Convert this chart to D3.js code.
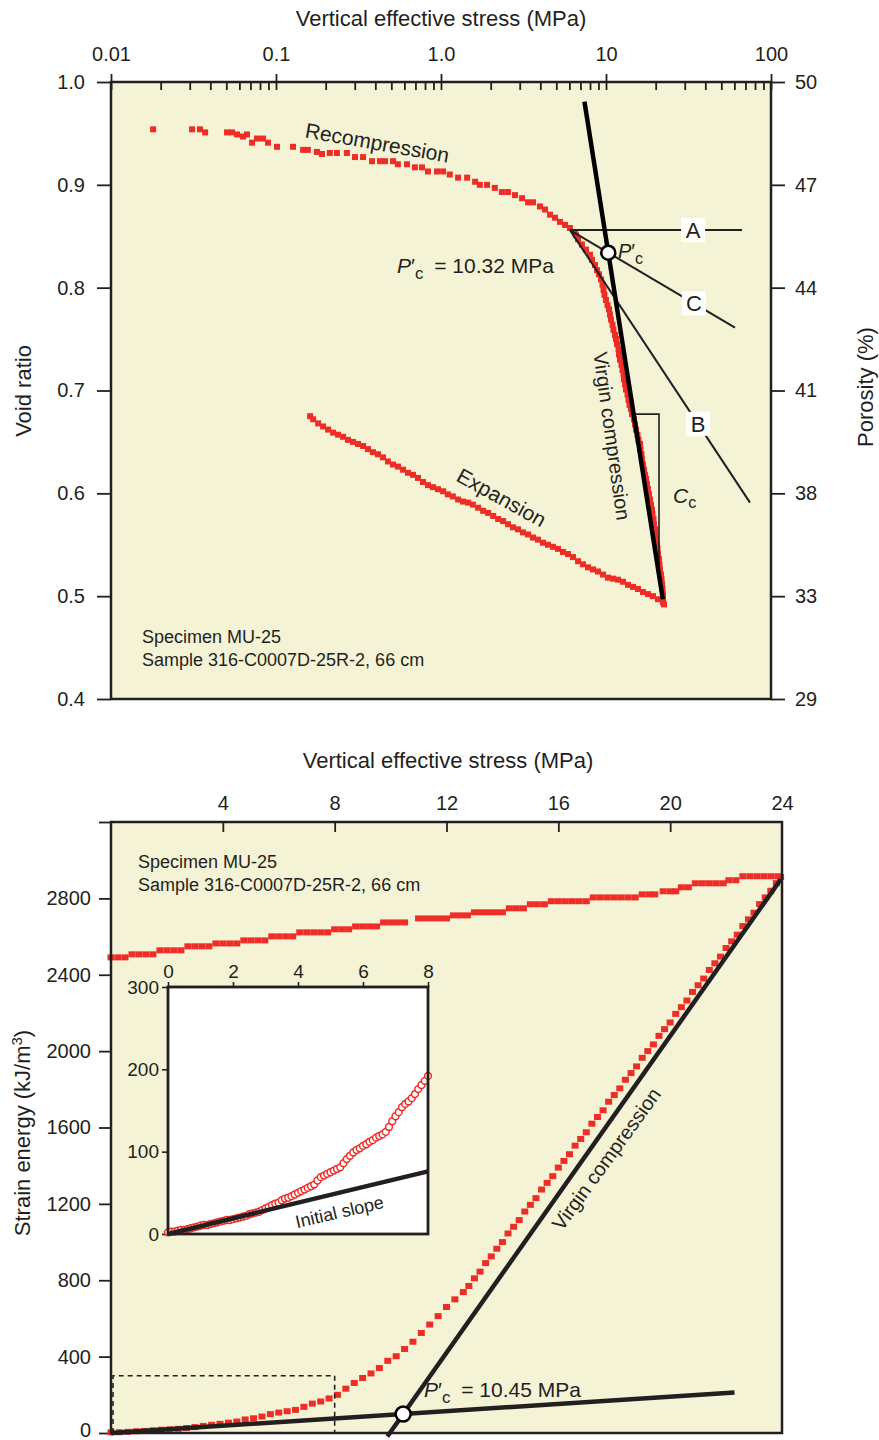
<!DOCTYPE html>
<html>
<head>
<meta charset="utf-8">
<script src="https://cdn.jsdelivr.net/npm/d3@7"></script>
<style>
  body { margin: 0; background: #ffffff; }
  svg text { font-family: "Liberation Sans", Arial, Helvetica, sans-serif; fill: #231f20; }
</style>
</head>
<body>
<svg id="fig" width="879" height="1440"></svg>
<script>
// ---------- Consolidation curve: void ratio vs. vertical effective stress ----------
const recompStress = [0.0180,0.0310,0.0346,0.0372,0.0505,0.0541,0.0581,0.0631,0.0667,0.0716,0.0767,0.0834,0.0895,0.1014,0.1268,0.146,0.156,0.177,0.190,0.212,0.234,0.269,0.301,0.337,0.382,0.427,0.458,0.512,0.548,0.622,0.695,0.767,0.834,0.946,1.03,1.13,1.27,1.44,1.61,1.72,1.90,2.12,2.34,2.55,2.81,3.10,3.37,3.61,3.98,4.27,4.58,4.91,5.26,5.65,6.05,6.49,
  6.58,6.77,7.15,7.56,8.00,8.23,8.58,8.82,9.07,9.33,9.52,9.66,9.79,10.0,10.21,10.43,10.57,10.72,10.95,11.10,11.34,11.50,11.66,11.91,11.99,12.16,12.41,12.59,12.77,12.85,13.04,13.22,13.50,13.69,13.88,14.18,14.38,14.78,14.99,15.20,15.52,15.74,16.07,16.18,16.41,16.53,16.76,17.00,17.24,17.48,17.72,17.97,18.22,18.48,18.74,19.00,19.13,19.41,19.54,19.82,19.95,20.09,20.37,20.51,20.66,20.95,21.10,21.25,21.54,21.70,21.85,22.00,22.16,22.16,22.47];
const recompVoid = [0.954,0.954,0.954,0.951,0.951,0.951,0.949,0.947,0.949,0.941,0.945,0.945,0.941,0.937,0.937,0.934,0.934,0.932,0.930,0.931,0.931,0.931,0.927,0.927,0.923,0.923,0.923,0.923,0.920,0.920,0.917,0.917,0.913,0.913,0.913,0.910,0.907,0.907,0.903,0.900,0.900,0.897,0.893,0.893,0.890,0.887,0.883,0.883,0.879,0.876,0.871,0.868,0.864,0.861,0.858,0.853,
  0.851,0.847,0.842,0.837,0.832,0.827,0.822,0.817,0.813,0.808,0.803,0.798,0.793,0.788,0.783,0.779,0.774,0.769,0.764,0.759,0.754,0.750,0.745,0.740,0.735,0.730,0.725,0.720,0.716,0.711,0.706,0.701,0.696,0.691,0.686,0.682,0.677,0.672,0.667,0.662,0.657,0.652,0.648,0.643,0.638,0.633,0.628,0.623,0.618,0.614,0.609,0.604,0.599,0.594,0.589,0.584,0.580,0.575,0.570,0.565,0.560,0.555,0.550,0.546,0.541,0.536,0.531,0.526,0.521,0.517,0.512,0.507,0.502,0.497,0.492];

const expStress = [22.16,20.66,19.27,17.97,16.76,15.63,14.58,13.60,12.68,11.82,11.03,10.28,9.59,8.94,8.34,7.78,7.25,6.77,6.31,5.88,5.49,5.12,4.77,4.45,4.15,3.87,3.61,3.37,3.14,2.93,2.73,2.55,2.38,2.22,2.07,1.93,1.80,1.68,1.56,1.46,1.36,1.27,1.18,1.10,1.03,0.959,0.894,0.834,0.778,0.725,0.677,0.631,0.589,0.549,0.512,0.477,0.445,0.415,0.387,0.361,0.337,0.314,0.293,0.273,0.255,0.238,0.222,0.207,0.193,0.180,0.168,0.161];
const expVoid = [0.494,0.497,0.500,0.502,0.504,0.507,0.509,0.511,0.514,0.516,0.517,0.518,0.521,0.524,0.526,0.528,0.531,0.534,0.538,0.541,0.543,0.546,0.548,0.550,0.552,0.555,0.557,0.560,0.562,0.565,0.567,0.570,0.573,0.575,0.578,0.581,0.583,0.586,0.589,0.591,0.592,0.594,0.597,0.599,0.602,0.604,0.606,0.608,0.611,0.615,0.618,0.620,0.623,0.626,0.628,0.631,0.635,0.638,0.640,0.643,0.646,0.648,0.650,0.652,0.655,0.657,0.659,0.662,0.665,0.668,0.672,0.675];

const logMajorTicks = [0.01, 0.1, 1, 10, 100];
const logMajorLabels = ["0.01", "0.1", "1.0", "10", "100"];
const logMinorMultipliers = [2, 3, 4, 5, 6, 7, 8, 9];
const voidTicks = [1.0, 0.9, 0.8, 0.7, 0.6, 0.5, 0.4];
const porosityLabels = ["50", "47", "44", "41", "38", "33", "29"];

// Casagrande construction
const pcTopStress = 10.32;          // MPa, preconsolidation stress
const pcTopVoid = 0.834;
const virginLowEnd = [22.1, 0.497];  // lower end of the virgin compression line
const virginTopVoid = 0.981;         // void ratio where the line is cut off at the top
const maxCurvature = [6.05, 0.856];  // point of maximum curvature
const lineAEndStress = 66.7;         // horizontal line
const lineCEndStress = 60.5;         // bisector
const lineBEnd = [74.6, 0.591];      // tangent
const labelStressABC = { A: 33.7, C: 34.1, B: 36.1 };
const ccVoid = 0.677, ccStress = 20.95;   // compression-index triangle

// ---------- Strain energy vs. vertical effective stress ----------
const loadStress = [0.0,0.3,0.6,0.9,1.2,1.5,1.8,2.1,2.4,2.7,3.0,3.3,3.6,3.9,4.2,4.5,4.8,5.1,5.4,5.7,6.0,6.3,6.6,6.9,7.2,7.5,7.8,8.1,8.4,8.7,9.0,9.3,9.6,9.9,10.2,10.5,10.8,11.1,11.4,11.7,12.0,12.3,12.6,
  12.8,13.0,13.2,13.4,13.6,13.8,14.0,14.2,14.4,14.6,14.8,15.0,15.2,15.4,15.6,15.8,16.0,16.2,16.4,16.6,16.8,17.0,17.2,17.4,17.6,17.8,18.0,18.2,18.4,18.6,18.8,19.0,19.2,19.4,19.6,19.8,20.0,20.2,20.4,20.6,20.8,21.0,21.2,21.4,21.6,21.8,22.0,22.2,22.4,22.6,22.8,23.0,23.2,23.4,23.6,23.8,23.95];
const loadEnergy = [3,4,6,9,11,14,17,19,22,26,31,37,43,48,54,60,71,77,86,99,107,114,121,137,154,165,181,200,232,262,288,312,340,378,402,440,478,524,568,612,660,700,738,
  770,810,845,890,925,965,1000,1045,1080,1115,1160,1195,1230,1275,1310,1345,1390,1425,1460,1505,1540,1575,1620,1655,1690,1735,1770,1805,1850,1885,1920,1965,2000,2035,2080,2115,2150,2195,2230,2265,2310,2345,2380,2425,2460,2495,2540,2575,2610,2655,2690,2725,2770,2805,2840,2880,2912];

const unloadStress = [0,0.25,0.5,0.75,1.0,1.25,1.5,1.75,2.0,2.25,2.5,2.75,3.0,3.25,3.5,3.75,4.0,4.25,4.5,4.75,5.0,5.25,5.5,5.75,6.0,6.25,6.5,6.75,7.0,7.25,7.5,7.75,8.0,8.25,8.5,8.75,9.0,9.25,9.5,9.75,10.0,10.25,10.5,11.0,11.25,11.5,11.75,12.0,12.25,12.5,12.75,13.0,13.25,13.5,13.75,14.0,14.25,14.5,14.75,15.0,15.25,15.5,15.75,16.0,16.25,16.5,16.75,17.0,17.25,17.5,17.75,18.0,18.25,18.5,18.75,19.0,19.25,19.45,19.75,20.0,20.2,20.4,20.65,20.9,21.15,21.4,21.65,21.9,22.1,22.35,22.6,22.85,23.1,23.35,23.6,23.85];
const unloadEnergy = [2491,2491,2491,2507,2507,2507,2507,2528,2528,2528,2528,2549,2549,2549,2549,2564,2564,2564,2564,2580,2580,2580,2580,2601,2601,2601,2601,2622,2622,2622,2622,2622,2638,2638,2638,2653,2653,2653,2653,2674,2674,2674,2674,2695,2695,2695,2695,2695,2711,2711,2711,2727,2727,2727,2727,2727,2748,2748,2748,2769,2769,2769,2785,2785,2785,2785,2785,2785,2805,2805,2805,2805,2805,2805,2805,2821,2821,2821,2837,2837,2837,2858,2858,2879,2879,2879,2879,2879,2895,2895,2916,2916,2916,2916,2916,2916];

const insetStress = [0.0,0.1,0.2,0.3,0.4,0.5,0.6,0.7,0.8,0.9,1.0,1.1,1.2,1.3,1.4,1.5,1.6,1.7,1.8,1.9,2.0,2.1,2.2,2.3,2.4,2.5,2.6,2.7,2.8,2.9,3.0,3.1,3.2,3.3,3.4,3.5,3.6,3.7,3.8,3.9,4.0,4.1,4.2,4.3,4.4,4.5,4.6,4.7,4.8,4.9,5.0,5.1,5.2,5.3,5.4,5.5,5.6,5.7,5.8,5.9,6.0,6.1,6.2,6.3,6.4,6.5,6.6,6.7,6.8,6.9,7.0,7.1,7.2,7.3,7.4,7.5,7.6,7.7,7.8,7.9,8.0];
const insetEnergy = [2,3,3,4,5,5,6,7,8,9,10,11,11,12,13,14,15,16,17,17,18,19,20,21,22,24,25,26,27,29,31,33,35,37,38,41,43,44,46,48,50,52,54,56,58,60,65,69,71,73,75,77,79,81,86,91,95,99,102,104,107,109,112,114,117,119,121,124,130,137,143,148,154,158,161,165,170,176,181,186,192];

const energyTicks = [0, 400, 800, 1200, 1600, 2000, 2400, 2800, 3200];
const stressTicks = [4, 8, 12, 16, 20, 24];
const insetStressTicks = [0, 2, 4, 6, 8];
const insetEnergyTicks = [0, 100, 200, 300];
const insetWindow = { stress: 8, energy: 300 };

const initialSlope = 9.5;          // kJ/m3 per MPa
const initialSlopeEnd = 22.3;      // MPa
const pcBottomStress = 10.45;      // MPa
const virginTopPoint = [23.96, 2900];

// ---------- drawing ----------
const ink = "#231f20", red = "#ed2d26", cream = "#f5f3d6";
const svg = d3.select("#fig");

function styleAxis(g, width) {
  g.select(".domain").remove();
  g.selectAll(".tick line").attr("stroke", ink).attr("stroke-width", width || 1.8);
  g.selectAll(".tick text").attr("fill", ink);
}

// ===== Upper panel =====
const T = { left: 111, right: 771, top: 82, bottom: 699 };
const xT = d3.scaleLog().domain([0.01, 100]).range([T.left, T.right]);
const yT = d3.scaleLinear().domain([0.4, 1.0]).range([T.bottom, T.top]);
const gTop = svg.append("g");

gTop.append("rect").attr("x", T.left).attr("y", T.top)
  .attr("width", T.right - T.left).attr("height", T.bottom - T.top).attr("fill", cream);

const minorTicks = [];
logMajorTicks.slice(0, -1).forEach(d => logMinorMultipliers.forEach(m => minorTicks.push(d * m)));

// major ticks with labels (outward) and inward parts
gTop.append("g").attr("transform", `translate(0,${T.top})`)
  .call(d3.axisTop(xT).tickValues(logMajorTicks).tickSize(8).tickPadding(13)
    .tickFormat((d, i) => logMajorLabels[i]))
  .call(g => styleAxis(g))
  .selectAll("text").attr("font-size", 20);
gTop.append("g").attr("transform", `translate(0,${T.top})`)
  .call(d3.axisBottom(xT).tickValues(logMajorTicks.concat(minorTicks)).tickSize(8).tickFormat(""))
  .call(g => styleAxis(g));

gTop.append("g").attr("transform", `translate(${T.left},0)`)
  .call(d3.axisLeft(yT).tickValues(voidTicks).tickSize(14).tickPadding(12).tickFormat(d3.format(".1f")))
  .call(g => styleAxis(g))
  .selectAll("text").attr("font-size", 20);
gTop.append("g").attr("transform", `translate(${T.right},0)`)
  .call(d3.axisRight(yT).tickValues(voidTicks).tickSize(14).tickPadding(10)
    .tickFormat((d, i) => porosityLabels[i]))
  .call(g => styleAxis(g))
  .selectAll("text").attr("font-size", 20);

// measured points
const sq = 6;
const recompPts = recompStress.map((s, i) => [s, recompVoid[i]]);
const expPts = expStress.map((s, i) => [s, expVoid[i]]);
gTop.append("g").selectAll("rect").data(recompPts.concat(expPts)).join("rect")
  .attr("x", d => xT(d[0]) - sq / 2).attr("y", d => yT(d[1]) - sq / 2)
  .attr("width", sq).attr("height", sq).attr("fill", red);

// construction lines (straight in log-stress space)
const lg = Math.log10;
function voidOn(p0, p1, s) {
  return p0[1] + (p1[1] - p0[1]) * (lg(s) - lg(p0[0])) / (lg(p1[0]) - lg(p0[0]));
}
function stressOn(p0, p1, e) {
  return Math.pow(10, lg(p0[0]) + (e - p0[1]) * (lg(p1[0]) - lg(p0[0])) / (p1[1] - p0[1]));
}
const pcTopPt = [pcTopStress, pcTopVoid];
const lineT = d3.line().x(d => xT(d[0])).y(d => yT(d[1]));
const lineCEnd = [lineCEndStress, voidOn(maxCurvature, pcTopPt, lineCEndStress)];
const thin = [
  [maxCurvature, [lineAEndStress, maxCurvature[1]]],
  [maxCurvature, lineCEnd],
  [maxCurvature, lineBEnd]
];
gTop.append("g").selectAll("path").data(thin).join("path")
  .attr("d", lineT).attr("fill", "none").attr("stroke", ink).attr("stroke-width", 2);

// compression index triangle
const ccStartStress = stressOn(pcTopPt, virginLowEnd, ccVoid);
const ccBottomVoid = voidOn(pcTopPt, virginLowEnd, ccStress);
gTop.append("path")
  .attr("d", lineT([[ccStartStress, ccVoid], [ccStress, ccVoid], [ccStress, ccBottomVoid]]))
  .attr("fill", "none").attr("stroke", ink).attr("stroke-width", 1.6);

// virgin compression line
const virginTopStress = stressOn(pcTopPt, virginLowEnd, virginTopVoid);
gTop.append("path").attr("d", lineT([[virginTopStress, virginTopVoid], virginLowEnd]))
  .attr("fill", "none").attr("stroke", "#000").attr("stroke-width", 4.5);

gTop.append("circle").attr("cx", xT(pcTopStress)).attr("cy", yT(pcTopVoid)).attr("r", 7)
  .attr("fill", "#fff").attr("stroke", "#000").attr("stroke-width", 2.5);

// A, B, C labels in white boxes
const abcLines = { A: [maxCurvature, [lineAEndStress, maxCurvature[1]]], C: [maxCurvature, pcTopPt], B: [maxCurvature, lineBEnd] };
Object.keys(labelStressABC).forEach(k => {
  const s = labelStressABC[k];
  const cx = xT(s), cy = yT(voidOn(abcLines[k][0], abcLines[k][1], s));
  gTop.append("rect").attr("x", cx - 12).attr("y", cy - 12).attr("width", 24).attr("height", 24).attr("fill", "#fff");
  gTop.append("text").attr("x", cx).attr("y", cy + 8).attr("text-anchor", "middle")
    .attr("font-size", 22).text(k);
});

// panel texts
gTop.append("text").attr("x", 441).attr("y", 26).attr("text-anchor", "middle")
  .attr("font-size", 22).text("Vertical effective stress (MPa)");
gTop.append("text").attr("transform", "translate(31,391) rotate(-90)").attr("text-anchor", "middle")
  .attr("font-size", 22).text("Void ratio");
gTop.append("text").attr("transform", "translate(873,387) rotate(-90)").attr("text-anchor", "middle")
  .attr("font-size", 22).text("Porosity (%)");

gTop.append("text").attr("transform", "translate(376,150) rotate(10)").attr("text-anchor", "middle")
  .attr("font-size", 21).text("Recompression");
gTop.append("text").attr("transform", "translate(498,504) rotate(29)").attr("text-anchor", "middle")
  .attr("font-size", 21).text("Expansion");
gTop.append("text").attr("transform", "translate(605,437) rotate(82)").attr("text-anchor", "middle")
  .attr("font-size", 20).text("Virgin compression");

function pcLabel(g, x, y, rest, size) {
  const t = g.append("text").attr("x", x).attr("y", y).attr("font-size", size);
  t.append("tspan").attr("font-style", "italic").text("P");
  t.append("tspan").text("\u2032");
  t.append("tspan").attr("dy", 6).attr("font-size", size * 0.8).text("c");
  if (rest) t.append("tspan").attr("dy", -6).attr("dx", 5).text(rest);
  return t;
}
pcLabel(gTop, 397, 273, " = 10.32 MPa", 21);
pcLabel(gTop, 618, 258, "", 20);

const cc = gTop.append("text").attr("x", 673).attr("y", 503).attr("font-size", 21);
cc.append("tspan").attr("font-style", "italic").text("C");
cc.append("tspan").attr("dy", 5).attr("font-size", 16).text("c");

gTop.append("text").attr("x", 142).attr("y", 643).attr("font-size", 18).text("Specimen MU-25");
gTop.append("text").attr("x", 142).attr("y", 666).attr("font-size", 18).text("Sample 316-C0007D-25R-2, 66 cm");

gTop.append("rect").attr("x", T.left).attr("y", T.top)
  .attr("width", T.right - T.left).attr("height", T.bottom - T.top)
  .attr("fill", "none").attr("stroke", ink).attr("stroke-width", 2.5);

// ===== Lower panel =====
const B = { left: 111, right: 782, top: 822, bottom: 1433 };
const xB = d3.scaleLinear().domain([0, 24]).range([B.left, B.right]);
const yB = d3.scaleLinear().domain([0, 3200]).range([B.bottom, B.top]);
const gBot = svg.append("g");

gBot.append("rect").attr("x", B.left).attr("y", B.top)
  .attr("width", B.right - B.left).attr("height", B.bottom - B.top).attr("fill", cream);

gBot.append("g").attr("transform", `translate(0,${B.top})`)
  .call(d3.axisTop(xB).tickValues(stressTicks).tickSize(0).tickPadding(12))
  .call(g => styleAxis(g))
  .selectAll("text").attr("font-size", 20);
gBot.append("g").attr("transform", `translate(0,${B.top})`)
  .call(d3.axisBottom(xB).tickValues(stressTicks.slice(0, -1)).tickSize(10).tickFormat(""))
  .call(g => styleAxis(g));
gBot.append("g").attr("transform", `translate(${B.left},0)`)
  .call(d3.axisLeft(yB).tickValues(energyTicks).tickSize(12).tickPadding(8)
    .tickFormat(d => d === 3200 ? "" : d))
  .call(g => styleAxis(g))
  .call(g => g.selectAll(".tick text").filter(d => d === 0).attr("dy", "0.18em"))
  .selectAll("text").attr("font-size", 20);

const unloadPts = unloadStress.map((s, i) => [s, unloadEnergy[i]]);
const loadPts = loadStress.map((s, i) => [s, loadEnergy[i]]);
gBot.append("g").selectAll("rect").data(unloadPts.concat(loadPts)).join("rect")
  .attr("x", d => xB(d[0]) - 3.5).attr("y", d => yB(d[1]) - 3)
  .attr("width", 7).attr("height", 6).attr("fill", red);

// outline of the enlarged window
gBot.append("path")
  .attr("d", `M${xB(0) + 2},${yB(0)}V${yB(insetWindow.energy)}H${xB(insetWindow.stress)}V${yB(0)}`)
  .attr("fill", "none").attr("stroke", ink).attr("stroke-width", 1.6).attr("stroke-dasharray", "5,4");

// initial slope line and virgin compression line, intersecting at P'c
const lineB2 = d3.line().x(d => xB(d[0])).y(d => yB(d[1]));
const pcBottomPt = [pcBottomStress, initialSlope * pcBottomStress];
const virginSlope = (virginTopPoint[1] - pcBottomPt[1]) / (virginTopPoint[0] - pcBottomPt[0]);
const virginStartEnergy = -18;
const virginStart = [pcBottomPt[0] + (virginStartEnergy - pcBottomPt[1]) / virginSlope, virginStartEnergy];
gBot.append("path").attr("d", lineB2([[0, 0], [initialSlopeEnd, initialSlope * initialSlopeEnd]]))
  .attr("fill", "none").attr("stroke", ink).attr("stroke-width", 4.5);
gBot.append("path").attr("d", lineB2([virginStart, virginTopPoint]))
  .attr("fill", "none").attr("stroke", ink).attr("stroke-width", 4.5);
gBot.append("circle").attr("cx", xB(pcBottomPt[0])).attr("cy", yB(pcBottomPt[1])).attr("r", 7.5)
  .attr("fill", "#fff").attr("stroke", "#000").attr("stroke-width", 2.5);

gBot.append("text").attr("x", 448).attr("y", 768).attr("text-anchor", "middle")
  .attr("font-size", 22).text("Vertical effective stress (MPa)");
const yl = gBot.append("text").attr("transform", "translate(30,1133) rotate(-90)")
  .attr("text-anchor", "middle").attr("font-size", 22);
yl.append("tspan").text("Strain energy (kJ/m");
yl.append("tspan").attr("dy", -8).attr("font-size", 15).text("3");
yl.append("tspan").attr("dy", 8).text(")");

gBot.append("text").attr("x", 138).attr("y", 868).attr("font-size", 18).text("Specimen MU-25");
gBot.append("text").attr("x", 138).attr("y", 891).attr("font-size", 18).text("Sample 316-C0007D-25R-2, 66 cm");
gBot.append("text").attr("transform", "translate(612,1163) rotate(-54)").attr("text-anchor", "middle")
  .attr("font-size", 20).text("Virgin compression");
pcLabel(gBot, 424, 1397, " = 10.45 MPa", 21);

// inset: first 8 MPa enlarged
const I = { left: 168, right: 428, top: 987, bottom: 1234 };
const xI = d3.scaleLinear().domain([0, 8]).range([I.left, I.right]);
const yI = d3.scaleLinear().domain([0, 300]).range([I.bottom, I.top]);
const ins = gBot.append("g");
ins.append("rect").attr("x", I.left).attr("y", I.top)
  .attr("width", I.right - I.left).attr("height", I.bottom - I.top).attr("fill", "#fff");
ins.append("g").attr("transform", `translate(0,${I.top})`)
  .call(d3.axisTop(xI).tickValues(insetStressTicks).tickSize(5).tickPadding(4))
  .call(g => styleAxis(g, 1.6))
  .selectAll("text").attr("font-size", 19);
ins.append("g").attr("transform", `translate(${I.left},0)`)
  .call(d3.axisLeft(yI).tickValues(insetEnergyTicks).tickSize(6).tickPadding(3))
  .call(g => styleAxis(g, 1.6))
  .selectAll("text").attr("font-size", 19);
const insetPts = insetStress.map((s, i) => [s, insetEnergy[i]]);
ins.append("g").selectAll("circle").data(insetPts).join("circle")
  .attr("cx", d => xI(d[0])).attr("cy", d => yI(d[1])).attr("r", 3.4)
  .attr("fill", "#fff").attr("stroke", red).attr("stroke-width", 1.5);
ins.append("path").attr("d", d3.line().x(d => xI(d[0])).y(d => yI(d[1]))([[0, 0], [8, initialSlope * 8]]))
  .attr("fill", "none").attr("stroke", ink).attr("stroke-width", 4.5);
ins.append("text").attr("transform", "translate(341,1218) rotate(-13)").attr("text-anchor", "middle")
  .attr("font-size", 18).text("Initial slope");
ins.append("rect").attr("x", I.left).attr("y", I.top)
  .attr("width", I.right - I.left).attr("height", I.bottom - I.top)
  .attr("fill", "none").attr("stroke", ink).attr("stroke-width", 2.8);

gBot.append("rect").attr("x", B.left).attr("y", B.top)
  .attr("width", B.right - B.left).attr("height", B.bottom - B.top)
  .attr("fill", "none").attr("stroke", ink).attr("stroke-width", 2.5);
</script>
</body>
</html>
